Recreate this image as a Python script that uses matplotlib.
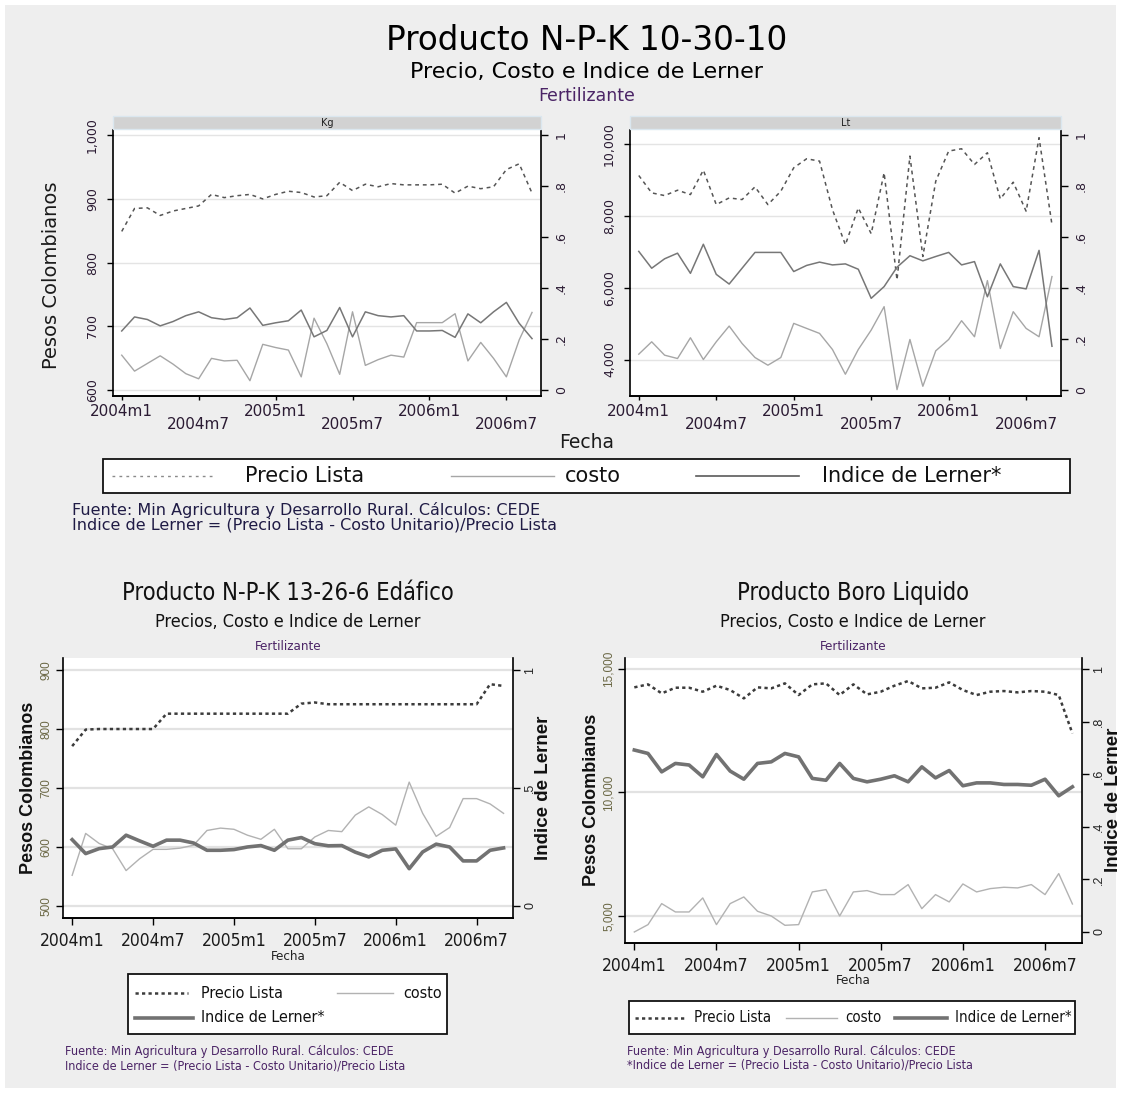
import numpy as np
import matplotlib
matplotlib.use("Agg")
import matplotlib.pyplot as plt
from matplotlib import font_manager
from matplotlib.lines import Line2D
from matplotlib.patches import Rectangle

# meses 2004m1 .. 2006m9
meses = np.arange(33)
tick_pos = [0, 6, 12, 18, 24, 30]
tick_lab = ['2004m1', '2004m7', '2005m1', '2005m7', '2006m1', '2006m7']

# N-P-K 10-30-10, Kg
kg_precio = [849, 885, 886, 874, 881, 885, 889, 907, 902, 905, 907, 900, 907, 912, 910, 903, 905,
             926, 913, 923, 919, 924, 922, 922, 922, 923, 909, 920, 916, 919, 946, 955, 909]
kg_costo = [655, 630, 642, 654, 641, 626, 618, 650, 646, 647, 615, 672, 667, 663, 621, 713, 673,
            625, 723, 639, 648, 655, 652, 706, 706, 706, 720, 646, 675, 650, 621, 679, 722]
kg_lerner = [0.233, 0.288, 0.278, 0.253, 0.270, 0.293, 0.308, 0.285, 0.278, 0.285, 0.323, 0.255,
             0.265, 0.273, 0.315, 0.210, 0.235, 0.325, 0.210, 0.308, 0.293, 0.288, 0.293, 0.233,
             0.233, 0.235, 0.208, 0.300, 0.265, 0.308, 0.345, 0.263, 0.203]

# N-P-K 10-30-10, Lt
lt_precio = [9116, 8633, 8558, 8707, 8586, 9265, 8307, 8493, 8447, 8800, 8307, 8679, 9330, 9581,
             9516, 8167, 7191, 8214, 7498, 9191, 6214, 9656, 6865, 8958, 9795, 9860, 9423, 9749,
             8465, 8930, 8121, 10167, 7749]
lt_costo = [4149, 4493, 4121, 4028, 4605, 4000, 4493, 4930, 4447, 4056, 3842, 4056, 5005, 4865,
            4726, 4279, 3591, 4279, 4819, 5470, 3163, 4558, 3256, 4242, 4558, 5079, 4633, 6195,
            4307, 5330, 4865, 4633, 6307]
lt_lerner = [0.545, 0.479, 0.516, 0.538, 0.459, 0.573, 0.455, 0.417, 0.479, 0.541, 0.541, 0.541,
             0.466, 0.490, 0.503, 0.492, 0.496, 0.475, 0.361, 0.407, 0.483, 0.528, 0.508, 0.525,
             0.541, 0.492, 0.505, 0.367, 0.496, 0.407, 0.398, 0.549, 0.173]

# N-P-K 13-26-6 Edafico
ed_precio = [771, 799, 800, 800, 800, 800, 800, 826, 826, 826, 826, 826, 826, 826, 826, 826, 826,
             843, 845, 842, 842, 842, 842, 842, 842, 842, 842, 842, 842, 842, 842, 876, 873]
ed_costo = [552, 623, 606, 597, 560, 580, 596, 596, 598, 603, 628, 632, 630, 620, 613, 630, 597,
            597, 617, 628, 626, 654, 668, 655, 637, 710, 657, 618, 633, 682, 682, 673, 657]
ed_lerner = [0.281, 0.222, 0.243, 0.250, 0.300, 0.276, 0.253, 0.279, 0.279, 0.267, 0.236, 0.236,
             0.239, 0.250, 0.256, 0.236, 0.279, 0.290, 0.264, 0.255, 0.256, 0.228, 0.208, 0.236,
             0.242, 0.158, 0.229, 0.262, 0.250, 0.191, 0.191, 0.236, 0.246]

# Boro liquido
bo_precio = [14257, 14378, 14014, 14243, 14243, 14081, 14324, 14149, 13811, 14257, 14216, 14419,
             13946, 14378, 14419, 13946, 14378, 13973, 14081, 14324, 14514, 14216, 14243, 14459,
             14149, 13946, 14081, 14108, 14054, 14108, 14081, 13946, 12392]
bo_costo = [4351, 4649, 5500, 5162, 5162, 5730, 4649, 5500, 5770, 5189, 5000, 4622, 4649, 5973,
            6068, 5000, 5973, 6027, 5865, 5865, 6270, 5297, 5865, 5568, 6297, 5973, 6108, 6162,
            6135, 6270, 5865, 6716, 5486]
bo_lerner = [0.692, 0.679, 0.609, 0.641, 0.635, 0.590, 0.675, 0.612, 0.581, 0.641, 0.647, 0.679,
             0.666, 0.584, 0.577, 0.641, 0.584, 0.571, 0.581, 0.594, 0.571, 0.628, 0.586, 0.614,
             0.556, 0.567, 0.567, 0.561, 0.561, 0.558, 0.581, 0.518, 0.552]

W, H = 1126, 1093
BG = '#eeeeee'
PURPLE = '#4b2466'
OLIVE = '#6a6744'

names = {f.name for f in font_manager.fontManager.ttflist}
if 'Liberation Sans Narrow' in names:
    NARROW = {'family': 'Liberation Sans Narrow'}
else:
    NARROW = {'family': 'DejaVu Sans', 'stretch': 'condensed'}
ARIAL = 'Liberation Sans' if 'Liberation Sans' in names else 'DejaVu Sans'

plt.rcParams['font.family'] = 'DejaVu Sans'


def box(x0, y0, x1, y1):
    return [x0 / W, 1 - y1 / H, (x1 - x0) / W, (y1 - y0) / H]


def fx(x):
    return x / W


def fy(y):
    return 1 - y / H


fig = plt.figure(figsize=(W / 100, H / 100), dpi=100, facecolor='white')
fig.add_artist(Rectangle((fx(5), fy(1088)), 1111 / W, 1083 / H, transform=fig.transFigure,
                         facecolor=BG, edgecolor='none', zorder=-5))

top_styles = dict(precio=dict(color='#555555', lw=1.1, ls=(0, (2.5, 2.5))),
                  costo=dict(color='#a6a6a6', lw=1.0),
                  lerner=dict(color='#777777', lw=1.1))
bot_styles = dict(precio=dict(color='#3c3c3c', lw=1.8, ls=(0, (1.3, 1.3))),
                  costo=dict(color='#b2b2b2', lw=1.0),
                  lerner=dict(color='#727272', lw=2.6))


def base_axes(rect, precio, costo, lerner, ylim, ylim2, yt, ytl, yt2, ytl2, st):
    ax = fig.add_axes(rect)
    ax.set_facecolor('white')
    ax.plot(meses, precio, **st['precio'])
    ax.plot(meses, costo, **st['costo'])
    ax.set_xlim(-0.68, 32.7)
    ax.set_ylim(*ylim)
    ax.set_yticks(yt)
    ax.set_yticklabels(ytl)
    ax.set_axisbelow(True)
    ax.yaxis.grid(True, color='#e2e2e2', lw=1.6)
    ax2 = ax.twinx()
    ax2.plot(meses, lerner, **st['lerner'])
    ax2.set_ylim(*ylim2)
    ax2.set_yticks(yt2)
    ax2.set_yticklabels(ytl2)
    for a in (ax, ax2):
        a.spines['top'].set_visible(False)
        for s in ('left', 'bottom', 'right'):
            a.spines[s].set_linewidth(1.2)
    ax.spines['right'].set_visible(False)
    ax2.spines['left'].set_visible(False)
    return ax, ax2


def top_panel(rect, strip, label, precio, costo, lerner, ylim, yt, ytl):
    ax, ax2 = base_axes(rect, precio, costo, lerner, ylim, (-0.022, 1.021), yt, ytl,
                        [0, .2, .4, .6, .8, 1], ['0', '.2', '.4', '.6', '.8', '1'], top_styles)
    ax.yaxis.grid(True, color='#e4e4e4', lw=1.0)
    ax.set_xticks(tick_pos[0::2])
    ax.set_xticklabels(tick_lab[0::2])
    ax.set_xticks(tick_pos[1::2], minor=True)
    ax.set_xticklabels(tick_lab[1::2], minor=True)
    ax.tick_params(axis='x', which='both', length=3, width=1, pad=2.5, labelsize=11,
                   labelcolor='#2b1b33')
    ax.tick_params(axis='x', which='minor', pad=12)
    ax.tick_params(axis='y', length=4, width=1, pad=6, labelsize=9, labelrotation=90,
                   labelcolor='#2b1b33')
    ax2.tick_params(axis='y', length=5, width=1, pad=5, labelsize=9, labelrotation=90,
                    labelcolor='#2b1b33')
    plt.setp(ax.get_yticklabels(), va='center')
    plt.setp(ax2.get_yticklabels(), va='center')
    x0, y0, x1, y1 = strip
    fig.add_artist(Rectangle((fx(x0), fy(y1)), (x1 - x0) / W, (y1 - y0) / H,
                             transform=fig.transFigure, facecolor='#d2d2d2',
                             edgecolor='#dbe7ef', lw=1))
    fig.text(fx((x0 + x1) / 2), fy((y0 + y1) / 2), label, ha='center', va='center',
             fontsize=7, color='#222222')
    return ax, ax2


def bottom_panel(rect, precio, costo, lerner, ylim, ylim2, yt, ytl, yt2, ytl2):
    ax, ax2 = base_axes(rect, precio, costo, lerner, ylim, ylim2, yt, ytl, yt2, ytl2, bot_styles)
    ax.set_xticks(tick_pos)
    ax.set_xticklabels(tick_lab)
    ax.tick_params(axis='x', length=5, width=1, pad=5, labelcolor='#1a1a1a')
    plt.setp(ax.get_xticklabels(), fontsize=12.5, **NARROW)
    ax.tick_params(axis='y', length=5, width=1, pad=2.5, labelrotation=90, labelcolor=OLIVE)
    ax2.tick_params(axis='y', length=5, width=1, pad=3, labelrotation=90, labelcolor='#222222')
    plt.setp(ax.get_yticklabels(), va='center', fontsize=8.5, family=ARIAL)
    plt.setp(ax2.get_yticklabels(), va='center', fontsize=9, family=ARIAL)
    return ax, ax2


def legend_box(x0, y0, x1, y1, entries, st, fsize, fontkw):
    fig.add_artist(Rectangle((fx(x0), fy(y1)), (x1 - x0) / W, (y1 - y0) / H,
                             transform=fig.transFigure, facecolor='white',
                             edgecolor='#111111', lw=1.3))
    for key, la, lb, tx, y, txt in entries:
        fig.add_artist(Line2D([fx(la), fx(lb)], [fy(y), fy(y)], transform=fig.transFigure,
                              **st[key]))
        fig.text(fx(tx), fy(y), txt, ha='left', va='center', fontsize=fsize,
                 color='#111111', **fontkw)


# ---------------- bloque superior: N-P-K 10-30-10 ----------------
fig.text(fx(587), fy(41), 'Producto N-P-K 10-30-10', ha='center', va='center', fontsize=23.5)
fig.text(fx(587), fy(72), 'Precio, Costo e Indice de Lerner', ha='center', va='center',
         fontsize=16)
fig.text(fx(587), fy(96), 'Fertilizante', ha='center', va='center', fontsize=12.5,
         color=PURPLE)

top_panel(box(113, 130, 541, 396), (113, 116, 541, 129), 'Kg', kg_precio, kg_costo, kg_lerner,
          (591, 1008), [600, 700, 800, 900, 1000], ['600', '700', '800', '900', '1,000'])
top_panel(box(630, 130, 1061, 396), (630, 116, 1061, 129), 'Lt', lt_precio, lt_costo, lt_lerner,
          (2986, 10381), [4000, 6000, 8000, 10000], ['4,000', '6,000', '8,000', '10,000'])

fig.text(fx(52), fy(275), 'Pesos Colombianos', rotation=90, ha='center', va='center',
         fontsize=14, color='#1a1a1a')
fig.text(fx(587), fy(442), 'Fecha', ha='center', va='center', fontsize=13.5, color='#1a1a1a')

legend_box(103, 459, 1070, 493,
           [('precio', 112, 215, 245, 476, 'Precio Lista'),
            ('costo', 451, 554, 565, 476, 'costo'),
            ('lerner', 696, 799, 822, 476, 'Indice de Lerner*')],
           dict(precio=dict(color='#8a8a8a', lw=1.0, ls=(0, (2, 3))),
                costo=dict(color='#a6a6a6', lw=1.0),
                lerner=dict(color='#5a5a5a', lw=1.2)),
           15, {})

fig.text(fx(72), fy(517),
         'Fuente: Min Agricultura y Desarrollo Rural. Cálculos: CEDE\n'
         'Indice de Lerner = (Precio Lista - Costo Unitario)/Precio Lista',
         ha='left', va='center', fontsize=11.5, color='#1f1b45', linespacing=0.95)

# ---------------- bloque inferior izquierdo: N-P-K 13-26-6 ----------------
fig.text(fx(288), fy(593), 'Producto N-P-K 13-26-6 Edáfico', ha='center', va='center',
         fontsize=17, color='#111111', **NARROW)
fig.text(fx(288), fy(622), 'Precios, Costo e Indice de Lerner', ha='center', va='center',
         fontsize=13, color='#111111', **NARROW)
fig.text(fx(288), fy(646), 'Fertilizante', ha='center', va='center', fontsize=9.5,
         color=PURPLE, **NARROW)

bottom_panel(box(63, 658, 513, 918), ed_precio, ed_costo, ed_lerner, (479.6, 920.4),
             (-0.051, 1.051), [500, 600, 700, 800, 900], ['500', '600', '700', '800', '900'],
             [0, .5, 1], ['0', '.5', '1'])
fig.text(fx(29), fy(788), 'Pesos Colombianos', rotation=90, ha='center', va='center',
         fontsize=13, fontweight='bold', family=ARIAL, color='#111111')
fig.text(fx(543), fy(788), 'Indice de Lerner', rotation=90, ha='center', va='center',
         fontsize=13.5, fontweight='bold', family=ARIAL, color='#111111')
fig.text(fx(288), fy(956), 'Fecha', ha='center', va='center', fontsize=9.5, color='#222222',
         **NARROW)

legend_box(128, 974, 447, 1034,
           [('precio', 135, 188, 201, 993, 'Precio Lista'),
            ('costo', 337, 393, 403, 993, 'costo'),
            ('lerner', 135, 193, 201, 1018, 'Indice de Lerner*')],
           bot_styles, 11.5, NARROW)

fig.text(fx(65), fy(1059),
         'Fuente: Min Agricultura y Desarrollo Rural. Cálculos: CEDE\n'
         'Indice de Lerner = (Precio Lista - Costo Unitario)/Precio Lista',
         ha='left', va='center', fontsize=9, color=PURPLE, linespacing=1.1, **NARROW)

# ---------------- bloque inferior derecho: Boro liquido ----------------
fig.text(fx(853), fy(593), 'Producto Boro Liquido', ha='center', va='center', fontsize=17,
         color='#111111', **NARROW)
fig.text(fx(853), fy(622), 'Precios, Costo e Indice de Lerner', ha='center', va='center',
         fontsize=13, color='#111111', **NARROW)
fig.text(fx(853), fy(646), 'Fertilizante', ha='center', va='center', fontsize=9.5,
         color=PURPLE, **NARROW)

bottom_panel(box(625, 658, 1082, 943), bo_precio, bo_costo, bo_lerner, (3905, 15446),
             (-0.042, 1.042), [5000, 10000, 15000], ['5,000', '10,000', '15,000'],
             [0, .2, .4, .6, .8, 1], ['0', '.2', '.4', '.6', '.8', '1'])
fig.text(fx(592), fy(800), 'Pesos Colombianos', rotation=90, ha='center', va='center',
         fontsize=13, fontweight='bold', family=ARIAL, color='#111111')
fig.text(fx(1113), fy(800), 'Indice de Lerner', rotation=90, ha='center', va='center',
         fontsize=13.5, fontweight='bold', family=ARIAL, color='#111111')
fig.text(fx(853), fy(981), 'Fecha', ha='center', va='center', fontsize=9.5, color='#222222',
         **NARROW)

legend_box(629, 1001, 1075, 1034,
           [('precio', 635, 685, 694, 1018, 'Precio Lista'),
            ('costo', 786, 837, 845, 1018, 'costo'),
            ('lerner', 895, 947, 955, 1018, 'Indice de Lerner*')],
           bot_styles, 10.8, NARROW)

fig.text(fx(627), fy(1058),
         'Fuente: Min Agricultura y Desarrollo Rural. Cálculos: CEDE\n'
         '*Indice de Lerner = (Precio Lista - Costo Unitario)/Precio Lista',
         ha='left', va='center', fontsize=9, color=PURPLE, linespacing=1.1, **NARROW)

fig.savefig('out.png', dpi=100, facecolor=fig.get_facecolor())
